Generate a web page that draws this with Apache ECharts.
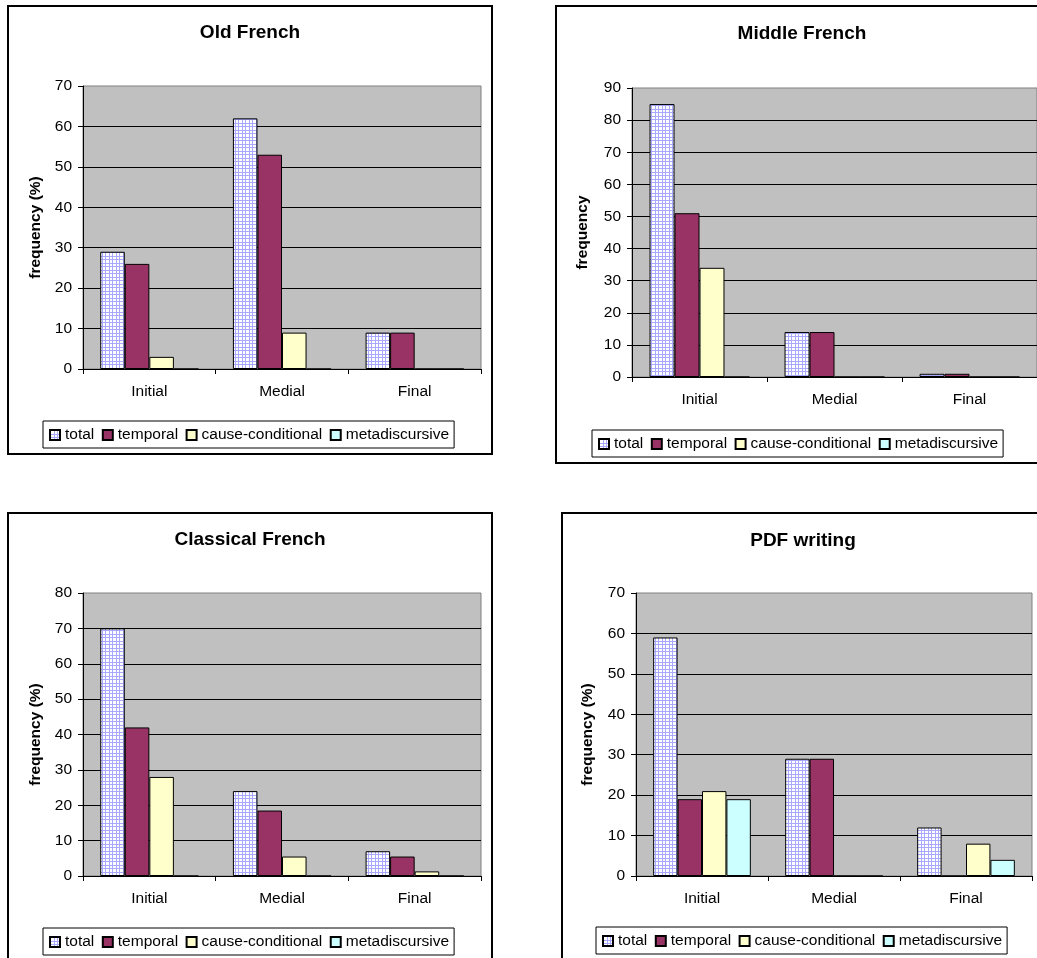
<!DOCTYPE html>
<html>
<head>
<meta charset="utf-8">
<script src="https://cdn.jsdelivr.net/npm/echarts@6/dist/echarts.min.js"></script>
<style>
  html, body { margin: 0; padding: 0; background: #ffffff; }
  #chart { width: 1037px; height: 958px; }
</style>
</head>
<body>
<div id="chart"></div>
<script>
// Clause position of adverbials, four periods of French
const categories = ['Initial', 'Medial', 'Final'];
const seriesNames = ['total', 'temporal', 'cause-conditional', 'metadiscursive'];

const panelTitles = ['Old French', 'Middle French', 'Classical French', 'PDF writing'];
const axisNames = ['frequency (%)', 'frequency', 'frequency (%)', 'frequency (%)'];
const axisMax = [70, 90, 80, 70];
const axisStep = 10;

// Old French
const oldTotal = [29, 62, 9];
const oldTemporal = [26, 53, 9];
const oldCause = [3, 9, 0];
const oldMeta = [0, 0, 0];

// Middle French
const middleTotal = [85, 14, 1];
const middleTemporal = [51, 14, 1];
const middleCause = [34, 0, 0];
const middleMeta = [0, 0, 0];

// Classical French
const classicalTotal = [70, 24, 7];
const classicalTemporal = [42, 18.5, 5.5];
const classicalCause = [28, 5.5, 1.3];
const classicalMeta = [0, 0, 0];

// PDF writing
const pdfTotal = [59, 29, 12];
const pdfTemporal = [19, 29, 0];
const pdfCause = [21, 0, 8];
const pdfMeta = [19, 0, 4];

const panelValues = [
  [oldTotal, oldTemporal, oldCause, oldMeta],
  [middleTotal, middleTemporal, middleCause, middleMeta],
  [classicalTotal, classicalTemporal, classicalCause, classicalMeta],
  [pdfTotal, pdfTemporal, pdfCause, pdfMeta]
];

// Page layout of the four framed charts
const layout = [
  { frame: [8, 6, 484, 448],     grid: [83, 86, 398, 283],  title: [250, 23],  legend: [43, 421],  nameGap: 39 },
  { frame: [556, 6, 500, 457],   grid: [632, 88, 405, 289], title: [802, 24],  legend: [592, 430], nameGap: 41 },
  { frame: [8, 513, 484, 500],   grid: [83, 593, 398, 283], title: [250, 530], legend: [43, 928],  nameGap: 39 },
  { frame: [562, 513, 500, 500], grid: [636, 593, 396, 283], title: [803, 531], legend: [596, 927], nameGap: 40 }
];

const FONT = '"Liberation Sans", Arial, sans-serif';

// White fill crossed by a fine lavender grid
function gridPattern() {
  const c = document.createElement('canvas');
  c.width = 7; c.height = 7;
  const g = c.getContext('2d');
  g.fillStyle = '#ffffff';
  g.fillRect(0, 0, 7, 7);
  g.fillStyle = '#a8a8ff';
  g.fillRect(0, 0, 7, 1);
  g.fillRect(0, 4, 7, 1);
  g.fillRect(0, 0, 1, 7);
  g.fillRect(4, 0, 1, 7);
  return c;
}

const seriesFills = [
  { image: gridPattern(), repeat: 'repeat' },
  '#993366',
  '#ffffcc',
  '#ccffff'
];

const chart = echarts.init(document.getElementById('chart'), null, { renderer: 'canvas' });

const option = {
  animation: false,
  backgroundColor: '#ffffff',
  textStyle: { fontFamily: FONT, color: '#000' },
  title: [], grid: [], xAxis: [], yAxis: [], legend: [], series: [],
  graphic: []
};

layout.forEach((p, i) => {
  option.graphic.push({
    type: 'rect', silent: true, z: 0,
    shape: { x: p.frame[0], y: p.frame[1], width: p.frame[2], height: p.frame[3] },
    style: { fill: null, stroke: '#000', lineWidth: 2 }
  });

  option.title.push({
    text: panelTitles[i],
    left: p.title[0], top: p.title[1],
    textAlign: 'center', padding: 0,
    textStyle: { fontFamily: FONT, fontSize: 19, fontWeight: 'bold', color: '#000' }
  });

  option.grid.push({
    left: p.grid[0], top: p.grid[1], width: p.grid[2], height: p.grid[3],
    show: true, backgroundColor: '#c0c0c0', borderColor: '#808080', borderWidth: 1,
    containLabel: false
  });

  option.xAxis.push({
    type: 'category', gridIndex: i, data: categories,
    axisLine: { show: true, lineStyle: { color: '#000', width: 1 } },
    axisTick: { show: true, length: 5, lineStyle: { color: '#000' } },
    axisLabel: { margin: 15, fontFamily: FONT, fontSize: 15.5, color: '#000', interval: 0 },
    splitLine: { show: false }
  });

  option.yAxis.push({
    type: 'value', gridIndex: i, min: 0, max: axisMax[i], interval: axisStep,
    name: axisNames[i], nameLocation: 'middle', nameRotate: 90, nameGap: p.nameGap,
    nameTextStyle: { fontFamily: FONT, fontSize: 15.5, fontWeight: 'bold', color: '#000' },
    axisLine: { show: true, lineStyle: { color: '#000', width: 1 } },
    axisTick: { show: true, length: 5, lineStyle: { color: '#000' } },
    axisLabel: { margin: 11, fontFamily: FONT, fontSize: 15.5, color: '#000' },
    splitLine: { show: true, showMinLine: false, showMaxLine: false, lineStyle: { color: '#000', width: 1 } }
  });

  option.legend.push({
    left: p.legend[0], top: p.legend[1],
    orient: 'horizontal',
    data: seriesNames,
    icon: 'rect', itemWidth: 10, itemHeight: 10, itemGap: 7.5,
    padding: [6, 5, 5, 6],
    borderColor: '#000', borderWidth: 1, backgroundColor: '#ffffff',
    selectedMode: false,
    textStyle: { fontFamily: FONT, fontSize: 15.5, color: '#000' }
  });

  seriesNames.forEach((name, s) => {
    option.series.push({
      type: 'bar', name: name,
      xAxisIndex: i, yAxisIndex: i,
      data: panelValues[i][s],
      barGap: '0%', barCategoryGap: '26%',
      itemStyle: { color: seriesFills[s], borderColor: '#000', borderWidth: 1 },
      emphasis: { disabled: true }
    });
  });
});

chart.setOption(option);
</script>
</body>
</html>
